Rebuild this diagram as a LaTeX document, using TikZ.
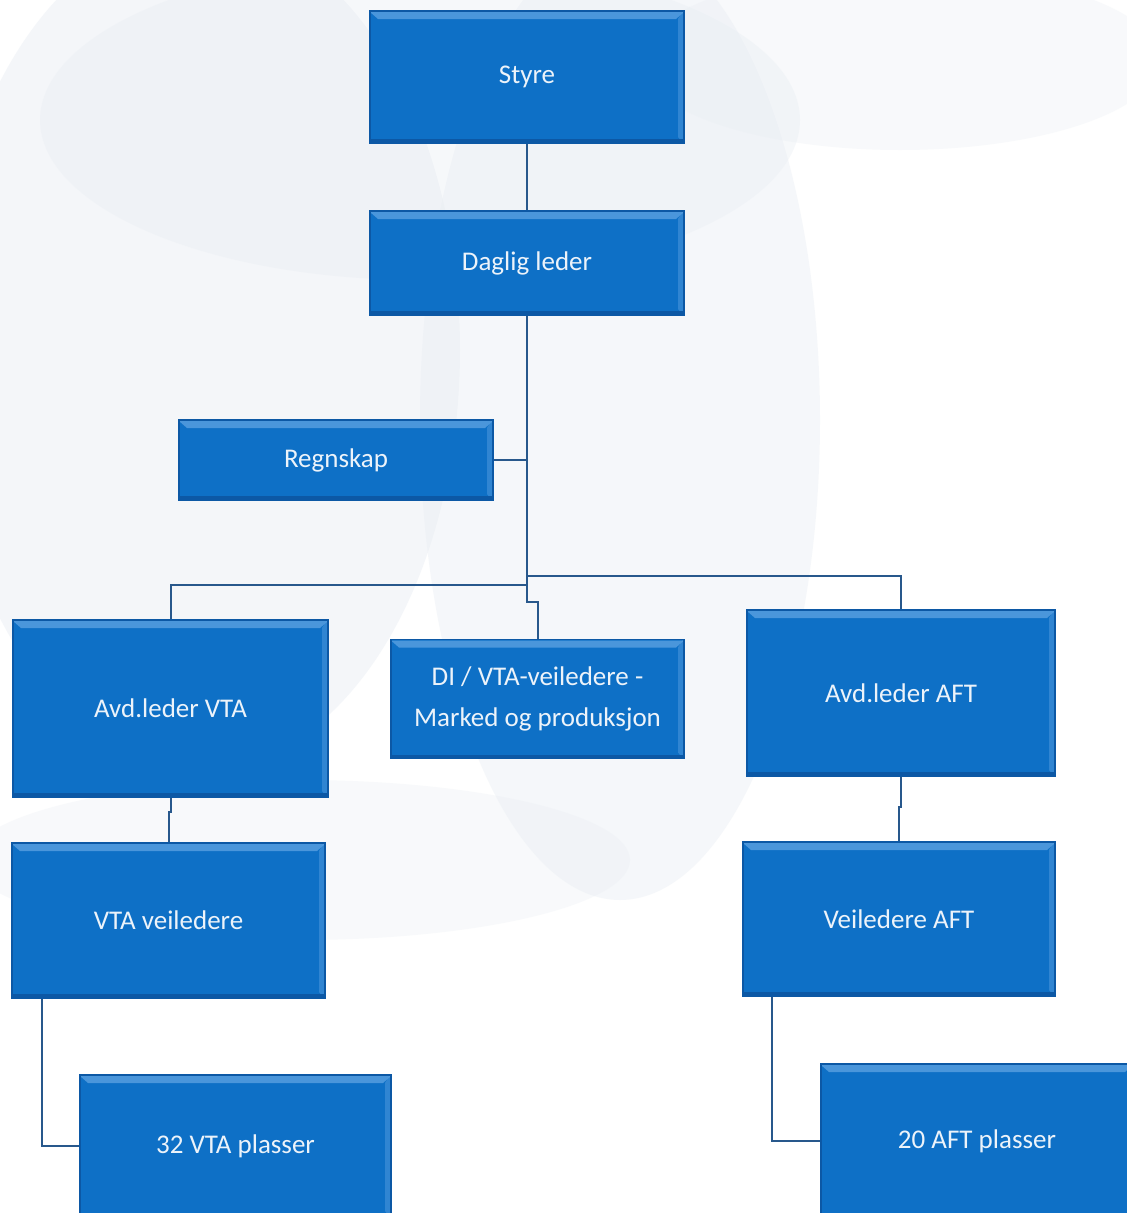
\documentclass[tikz,border=0pt]{standalone}
\usepackage{fontspec}
\setmainfont{Carlito}
\usetikzlibrary{calc}
\definecolor{boxfill}{RGB}{14,112,198}
\definecolor{boxedge}{RGB}{12,88,165}
\definecolor{boxlight}{RGB}{90,160,225}
\definecolor{linkcol}{RGB}{40,88,140}
\definecolor{bgblob}{RGB}{232,237,243}
\definecolor{txtcol}{RGB}{236,243,250}
\tikzset{
  orgbox/.style={rectangle, fill=boxfill, draw=boxedge, line width=1.2pt,
    text=txtcol, font=\fontsize{27}{41}\selectfont, align=center, inner sep=0pt,
    path picture={
      \fill[boxlight,opacity=.8] ([yshift=-1pt]path picture bounding box.north west) -- ([yshift=-1pt]path picture bounding box.north east) -- ([xshift=-8pt,yshift=-8pt]path picture bounding box.north east) -- ([xshift=8pt,yshift=-8pt]path picture bounding box.north west) -- cycle;
      \fill[boxlight,opacity=.45] ([xshift=-1pt]path picture bounding box.north east) -- ([xshift=-1pt]path picture bounding box.south east) -- ([xshift=-6pt,yshift=6pt]path picture bounding box.south east) -- ([xshift=-6pt,yshift=-8pt]path picture bounding box.north east) -- cycle;
      \fill[boxedge] ([yshift=4pt]path picture bounding box.south west) rectangle (path picture bounding box.south east);
    }},
  link/.style={draw=linkcol, line width=2pt}
}
\begin{document}
\begin{tikzpicture}[x=1pt,y=-1pt]
\useasboundingbox (0,0) rectangle (1127,1213);
\fill[white] (0,0) rectangle (1127,1213);
% faint watermark background
\begin{scope}
\clip (0,0) rectangle (1127,1213);
\fill[bgblob,opacity=.45] (200,350) ellipse (260 and 420);
\fill[bgblob,opacity=.4] (620,420) ellipse (200 and 480);
\fill[bgblob,opacity=.35] (420,120) ellipse (380 and 160);
\fill[bgblob,opacity=.3] (900,60) ellipse (260 and 90);
\fill[bgblob,opacity=.3] (300,860) ellipse (330 and 80);
\end{scope}

% boxes
\node[orgbox, minimum width=314pt, minimum height=132pt] (styre) at (527,77) {Styre};
\node[orgbox, minimum width=314pt, minimum height=104pt] (daglig) at (527,263) {Daglig leder};
\node[orgbox, minimum width=314pt, minimum height=80pt] (regn) at (336,460) {Regnskap};
\node[orgbox, minimum width=315pt, minimum height=177pt] (avdvta) at (170.5,708.5) {Avd.leder VTA};
\node[orgbox, minimum width=293pt, minimum height=119pt] (di) at (537.5,699) {DI / VTA-veiledere -\\Marked og produksjon};
\node[orgbox, minimum width=308pt, minimum height=166pt] (avdaft) at (901,693) {Avd.leder AFT};
\node[orgbox, minimum width=313pt, minimum height=155pt] (vtav) at (168.5,920.5) {VTA veiledere};
\node[orgbox, minimum width=312pt, minimum height=154pt] (aftv) at (899,919) {Veiledere AFT};
\node[orgbox, minimum width=311pt, minimum height=142pt] (vta32) at (235.5,1146) {32 VTA plasser};
\node[orgbox, minimum width=312pt, minimum height=154pt] (aft20) at (977,1141) {20 AFT plasser};

% junctions
\coordinate (jl) at (527,585);
\coordinate (jr) at (527,576);
\coordinate (jm) at (527,602);

% connectors
\draw[link] (styre.south) -- (daglig.north);
\draw[link] (daglig.south) -- (jm) -| (di.north);
\draw[link] (regn.east) -- (regn.east -| daglig.south);
\draw[link] (jl) -| (avdvta.north);
\draw[link] (jr) -| (avdaft.north);
\draw[link] (avdvta.south) -- ++(0,14) -| (vtav.north);
\draw[link] (avdaft.south) -- ++(0,30) -| (aftv.north);
\draw[link] ([xshift=31pt]vtav.south west) |- (vta32.west);
\draw[link] ([xshift=30pt]aftv.south west) |- (aft20.west);
\end{tikzpicture}
\end{document}
